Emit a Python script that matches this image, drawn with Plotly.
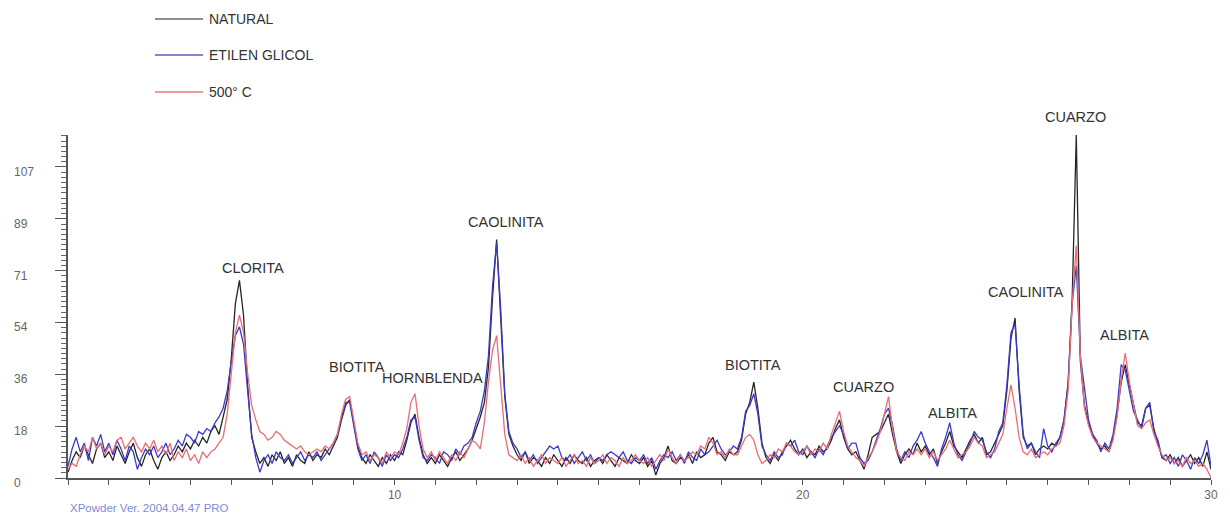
import plotly.graph_objects as go

# Diffractogram sampling: 2-theta from 2.0 to 30.0 degrees in 0.1 degree steps
TWO_THETA_START = 2.0
TWO_THETA_STEP = 0.1

# Intensity (counts), one row per degree of 2-theta
natural = [
    2, 6, 9, 7, 11, 8, 5, 10, 12, 7,          # 2
    9, 6, 11, 8, 5, 9, 12, 7, 4, 8,           # 3
    10, 6, 3, 7, 9, 6, 8, 11, 9, 12,          # 4
    10, 13, 11, 14, 12, 16, 18, 15, 21, 27,   # 5
    41, 60, 68, 56, 32, 14, 9, 5, 7, 4,       # 6
    8, 6, 9, 5, 7, 4, 8, 6, 5, 9,             # 7
    6, 8, 7, 10, 8, 11, 14, 20, 25, 27,       # 8
    19, 11, 7, 5, 8, 6, 4, 7, 5, 8,           # 9
    6, 9, 8, 13, 19, 22, 14, 8, 5, 7,         # 10
    5, 8, 6, 4, 7, 9, 6, 8, 10, 13,           # 11
    17, 21, 26, 38, 62, 82, 55, 28, 15, 11,   # 12
    8, 6, 9, 5, 7, 6, 4, 7, 5, 8,             # 13
    6, 4, 7, 5, 8, 6, 5, 7, 4, 6,             # 14
    7, 5, 8, 6, 4, 7, 6, 5, 8, 6,             # 15
    5, 7, 4, 6, 1, 5, 7, 11, 6, 5,            # 16
    7, 6, 8, 5, 9, 7, 8, 12, 14, 9,           # 17
    8, 6, 9, 8, 9, 13, 22, 26, 33, 24,        # 18
    12, 7, 5, 8, 6, 9, 11, 13, 10, 8,         # 19
    10, 7, 9, 8, 11, 9, 10, 13, 17, 20,       # 20
    14, 10, 8, 9, 6, 3, 8, 14, 15, 16,        # 21
    19, 22, 15, 9, 5, 8, 10, 8, 12, 9,        # 22
    11, 8, 10, 5, 9, 12, 16, 11, 9, 7,        # 23
    10, 13, 15, 12, 14, 8, 9, 12, 15, 18,     # 24
    30, 48, 55, 30, 14, 11, 12, 8, 10, 11,    # 25
    10, 12, 11, 14, 20, 33, 62, 118, 40, 25,  # 26
    19, 15, 12, 10, 11, 9, 14, 22, 33, 39,    # 27
    32, 26, 19, 18, 24, 25, 17, 12, 7, 6,     # 28
    8, 5, 7, 4, 6, 8, 5, 7, 4, 9,             # 29
    3,                                        # 30
]

etilen_glicol = [
    4, 10, 14, 9, 12, 6, 14, 11, 15, 9,       # 2
    12, 8, 13, 10, 6, 11, 9, 3, 7, 10,        # 3
    8, 11, 7, 9, 12, 8, 10, 13, 11, 15,       # 4
    14, 12, 16, 15, 17, 16, 19, 21, 24, 30,   # 5
    40, 49, 52, 46, 30, 15, 7, 2, 6, 8,       # 6
    5, 9, 7, 6, 8, 5, 7, 9, 6, 8,             # 7
    7, 9, 6, 8, 10, 12, 15, 21, 26, 26,       # 8
    18, 10, 6, 8, 5, 9, 7, 4, 8, 6,           # 9
    8, 7, 10, 14, 20, 21, 13, 7, 6, 8,        # 10
    7, 5, 9, 8, 6, 10, 8, 11, 12, 14,         # 11
    19, 23, 30, 42, 66, 81, 58, 29, 16, 12,   # 12
    10, 7, 9, 6, 8, 5, 7, 9, 11, 10,          # 13
    11, 7, 6, 8, 5, 7, 9, 6, 8, 5,            # 14
    7, 6, 8, 9, 8, 7, 9, 6, 5, 7,             # 15
    6, 8, 5, 7, 3, 6, 8, 7, 9, 6,             # 16
    8, 5, 9, 7, 6, 10, 8, 9, 11, 13,          # 17
    10, 8, 9, 11, 10, 14, 23, 25, 29, 22,     # 18
    11, 8, 6, 9, 7, 8, 12, 11, 13, 9,         # 19
    8, 11, 9, 7, 10, 8, 11, 14, 16, 18,       # 20
    15, 10, 12, 12, 7, 5, 6, 9, 13, 17,       # 21
    22, 24, 18, 10, 6, 9, 7, 11, 13, 16,      # 22
    12, 9, 7, 4, 10, 14, 19, 12, 8, 6,        # 23
    9, 12, 16, 14, 13, 9, 7, 10, 16, 19,      # 24
    32, 50, 53, 32, 15, 10, 12, 9, 7, 17,     # 25
    11, 9, 12, 14, 20, 32, 60, 73, 42, 31,    # 26
    20, 15, 13, 9, 12, 10, 15, 24, 39, 37,    # 27
    30, 23, 20, 17, 24, 26, 16, 13, 7, 8,     # 28
    5, 7, 4, 8, 6, 3, 7, 5, 8, 13,            # 29
    4,                                        # 30
]

calcinada_500 = [
    3, 5, 4, 8, 11, 9, 14, 10, 12, 8,         # 2
    11, 9, 13, 14, 10, 12, 14, 11, 9, 12,     # 3
    10, 13, 9, 11, 8, 12, 6, 9, 7, 10,        # 4
    6, 8, 5, 9, 7, 9, 10, 12, 14, 22,         # 5
    35, 50, 56, 50, 36, 25, 20, 16, 15, 13,   # 6
    14, 16, 15, 13, 12, 11, 10, 11, 9, 8,     # 7
    9, 10, 9, 11, 10, 12, 15, 22, 27, 28,     # 8
    20, 12, 8, 9, 6, 8, 7, 5, 9, 7,           # 9
    9, 8, 12, 17, 26, 29, 18, 10, 7, 9,       # 10
    6, 9, 7, 5, 8, 6, 9, 7, 10, 13,           # 11
    12, 10, 19, 33, 44, 49, 32, 15, 8, 7,     # 12
    6, 8, 5, 7, 4, 6, 8, 5, 7, 6,             # 13
    5, 7, 4, 6, 8, 5, 6, 4, 7, 5,             # 14
    6, 8, 5, 7, 6, 4, 7, 5, 6, 8,             # 15
    6, 5, 7, 4, 6, 8, 6, 10, 7, 5,            # 16
    8, 6, 7, 9, 8, 11, 10, 14, 12, 8,         # 17
    9, 7, 10, 8, 8, 11, 14, 15, 13, 8,        # 18
    5, 6, 8, 7, 10, 9, 12, 11, 9, 8,          # 19
    9, 11, 8, 10, 9, 12, 10, 15, 19, 23,      # 20
    16, 11, 9, 7, 6, 4, 7, 9, 12, 16,         # 21
    22, 28, 17, 9, 7, 6, 9, 8, 10, 8,         # 22
    10, 7, 9, 6, 8, 10, 13, 10, 7, 8,         # 23
    9, 11, 14, 12, 11, 7, 8, 9, 12, 15,       # 24
    24, 32, 24, 14, 9, 8, 10, 7, 8, 9,        # 25
    8, 10, 11, 12, 18, 30, 60, 80, 42, 24,    # 26
    18, 14, 12, 11, 10, 9, 13, 21, 34, 43,    # 27
    33, 25, 18, 17, 19, 20, 15, 11, 8, 6,     # 28
    7, 5, 6, 4, 7, 5, 6, 4, 5, 3,             # 29
    0,                                        # 30
]

SERIES_NAMES = ["NATURAL", "ETILEN GLICOL", "500° C"]
SERIES_COLORS = ["#262626", "#3a3acc", "#ea6d72"]
LEGEND_COLORS = ["#8e8e8e", "#8585cf", "#f09c9e"]

X_LABELLED_TICKS = [10, 20, 30]
Y_TICK_VALUES = [0, 17.83, 35.67, 53.5, 71.33, 89.17, 107.0]
Y_TICK_TEXT = ["0", "18", "36", "54", "71", "89", "107"]

# Mineral labels: (name, 2-theta, intensity at label centre)
PEAK_LABELS = [
    ("CLORITA", 6.53, 72.3),
    ("BIOTITA", 9.08, 38.2),
    ("HORNBLENDA", 10.94, 34.4),
    ("CAOLINITA", 12.73, 88.1),
    ("BIOTITA", 18.78, 38.9),
    ("CUARZO", 21.48, 31.3),
    ("ALBITA", 23.66, 22.4),
    ("CAOLINITA", 25.47, 64.0),
    ("ALBITA", 27.87, 49.2),
]
TOP_LABEL = "CUARZO"
TOP_LABEL_X = 26.67

FONT = "Liberation Sans, Arial, sans-serif"
AXIS_COLOR = "#555555"
Y_MAX = 118


def two_theta(values):
    return [round(TWO_THETA_START + i * TWO_THETA_STEP, 2) for i in range(len(values))]


fig = go.Figure()
for name, values, color in zip(SERIES_NAMES, [natural, etilen_glicol, calcinada_500], SERIES_COLORS):
    fig.add_trace(go.Scatter(
        x=two_theta(values), y=values, mode="lines", name=name,
        line=dict(color=color, width=1.3),
        showlegend=False,
    ))

annotations = []
for text, x, y in PEAK_LABELS:
    annotations.append(dict(
        x=x, y=y, xref="x", yref="y", text=text, showarrow=False,
        font=dict(family=FONT, size=14.5, color="#333333"),
        xanchor="center", yanchor="middle",
    ))
annotations.append(dict(
    x=TOP_LABEL_X, y=1.0525, xref="x", yref="paper", text=TOP_LABEL, showarrow=False,
    font=dict(family=FONT, size=14.5, color="#333333"),
    xanchor="center", yanchor="middle",
))

# Left-aligned intensity labels beside the major y ticks
for value, text in zip(Y_TICK_VALUES, Y_TICK_TEXT):
    annotations.append(dict(
        x=-0.049, y=value, xref="paper", yref="y", text=text, showarrow=False,
        font=dict(family=FONT, size=12, color="#666666"),
        xanchor="left", yanchor="middle", yshift=-5,
    ))

# Legend drawn as short line samples with labels above the plot area
shapes = []
legend_rows = [1.3382, 1.2332, 1.1254]
for name, color, yp in zip(SERIES_NAMES, LEGEND_COLORS, legend_rows):
    shapes.append(dict(
        type="line", xref="paper", yref="paper",
        x0=0.0761, x1=0.1181, y0=yp, y1=yp,
        line=dict(color=color, width=2),
    ))
    annotations.append(dict(
        x=0.1216, y=yp, xref="paper", yref="paper", text=name, showarrow=False,
        font=dict(family=FONT, size=14, color="#333333"),
        xanchor="left", yanchor="middle",
    ))

annotations.append(dict(
    x=0.0, y=-0.088, xref="paper", yref="paper", text="XPowder Ver. 2004.04.47 PRO",
    showarrow=False, font=dict(family=FONT, size=11.5, color="#7d8cd8"),
    xanchor="left", yanchor="middle",
))

x_tick_vals = list(range(2, 31))
x_tick_text = [str(v) if v in X_LABELLED_TICKS else "" for v in x_tick_vals]
y_minor_vals = [round(i * Y_TICK_VALUES[-1] / 60, 3) for i in range(int(Y_MAX * 60 / Y_TICK_VALUES[-1]) + 1)]

fig.update_layout(
    width=1230, height=519,
    margin=dict(l=68, r=19, t=135, b=41),
    paper_bgcolor="white", plot_bgcolor="white",
    showlegend=False,
    annotations=annotations,
    shapes=shapes,
    xaxis=dict(
        range=[2, 30], showgrid=False, zeroline=False,
        showline=True, linecolor=AXIS_COLOR, linewidth=1.5,
        tickmode="array", tickvals=x_tick_vals, ticktext=x_tick_text,
        ticks="outside", ticklen=5, tickcolor=AXIS_COLOR, tickwidth=1,
        tickfont=dict(family=FONT, size=12, color="#666666"),
    ),
    yaxis=dict(
        range=[0, Y_MAX], showgrid=False, zeroline=False,
        showline=True, linecolor=AXIS_COLOR, linewidth=1.5,
        tickmode="array", tickvals=Y_TICK_VALUES, showticklabels=False,
        ticks="outside", ticklen=11, tickcolor=AXIS_COLOR, tickwidth=1,
        minor=dict(tickmode="array", tickvals=y_minor_vals, ticks="outside",
                   ticklen=5, tickcolor="#666666", tickwidth=1),
    ),
)

fig.write_html("out.html")
